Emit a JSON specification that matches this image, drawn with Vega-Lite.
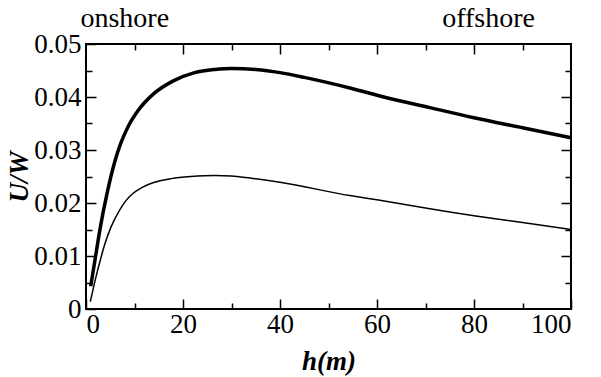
{
  "$schema": "https://vega.github.io/schema/vega-lite/v6.json",
  "width": 485,
  "height": 265,
  "autosize": {"type": "none"},
  "padding": {"left": 86, "top": 44, "right": 30, "bottom": 68},
  "background": "white",
  "config": {
    "view": {"stroke": "black", "strokeWidth": 2},
    "font": "'Liberation Serif', 'DejaVu Serif', serif",
    "axis": {"grid": false, "domain": false, "tickColor": "black", "labelColor": "black", "titleColor": "black", "labelFont": "'Liberation Serif', 'DejaVu Serif', serif", "titleFont": "'Liberation Serif', 'DejaVu Serif', serif"},
    "text": {"font": "'Liberation Serif', 'DejaVu Serif', serif"}
  },
  "datasets": {
    "curves": [
      {"h": 0.97, "u": 0.0043, "s": "thick"},
      {"h": 1.86, "u": 0.0093, "s": "thick"},
      {"h": 2.97, "u": 0.0155, "s": "thick"},
      {"h": 4.34, "u": 0.0218, "s": "thick"},
      {"h": 6.0, "u": 0.0280, "s": "thick"},
      {"h": 7.1, "u": 0.0311, "s": "thick"},
      {"h": 8.62, "u": 0.0343, "s": "thick"},
      {"h": 10.7, "u": 0.0374, "s": "thick"},
      {"h": 13.8, "u": 0.0405, "s": "thick"},
      {"h": 17.9, "u": 0.0430, "s": "thick"},
      {"h": 22.4, "u": 0.0446, "s": "thick"},
      {"h": 26.6, "u": 0.0452, "s": "thick"},
      {"h": 30, "u": 0.0454, "s": "thick"},
      {"h": 35, "u": 0.0452, "s": "thick"},
      {"h": 40, "u": 0.0446, "s": "thick"},
      {"h": 45, "u": 0.0437, "s": "thick"},
      {"h": 54.4, "u": 0.0417, "s": "thick"},
      {"h": 60.6, "u": 0.0402, "s": "thick"},
      {"h": 70.9, "u": 0.0380, "s": "thick"},
      {"h": 80, "u": 0.0361, "s": "thick"},
      {"h": 90, "u": 0.0342, "s": "thick"},
      {"h": 100, "u": 0.0323, "s": "thick"},
      {"h": 0.9, "u": 0.0014, "s": "thin"},
      {"h": 2.07, "u": 0.0061, "s": "thin"},
      {"h": 2.97, "u": 0.0093, "s": "thin"},
      {"h": 3.93, "u": 0.0124, "s": "thin"},
      {"h": 5.17, "u": 0.0155, "s": "thin"},
      {"h": 6.9, "u": 0.0186, "s": "thin"},
      {"h": 8.28, "u": 0.0205, "s": "thin"},
      {"h": 9.66, "u": 0.0218, "s": "thin"},
      {"h": 11.7, "u": 0.0230, "s": "thin"},
      {"h": 14.1, "u": 0.0239, "s": "thin"},
      {"h": 17.6, "u": 0.0246, "s": "thin"},
      {"h": 21.7, "u": 0.0250, "s": "thin"},
      {"h": 26.6, "u": 0.0252, "s": "thin"},
      {"h": 30, "u": 0.0251, "s": "thin"},
      {"h": 33.8, "u": 0.0247, "s": "thin"},
      {"h": 40, "u": 0.0239, "s": "thin"},
      {"h": 54.4, "u": 0.0214, "s": "thin"},
      {"h": 60.6, "u": 0.0205, "s": "thin"},
      {"h": 70.9, "u": 0.0189, "s": "thin"},
      {"h": 75, "u": 0.0183, "s": "thin"},
      {"h": 80, "u": 0.0176, "s": "thin"},
      {"h": 90, "u": 0.0163, "s": "thin"},
      {"h": 100, "u": 0.0150, "s": "thin"}
    ],
    "notes": [
      {"label": "onshore", "h": 8, "u": 0.05},
      {"label": "offshore", "h": 83, "u": 0.05}
    ]
  },
  "resolve": {"axis": {"x": "independent", "y": "independent"}},
  "layer": [
    {
      "data": {"name": "curves"},
      "mark": {"type": "line", "interpolate": "monotone", "color": "black"},
      "encoding": {
        "x": {"field": "h", "type": "quantitative", "scale": {"domain": [0, 100], "nice": false},
          "axis": {"orient": "bottom", "values": [0, 20, 40, 60, 80, 100], "tickSize": -10, "tickWidth": 1.5, "labelFontSize": 27, "labelPadding": 12, "title": "h(m)", "titleFontSize": 27, "titleFontWeight": "bold", "titleFontStyle": "italic", "titlePadding": 11}},
        "y": {"field": "u", "type": "quantitative", "scale": {"domain": [0, 0.05], "nice": false},
          "axis": {"orient": "left", "values": [0, 0.01, 0.02, 0.03, 0.04, 0.05], "tickSize": -10, "tickWidth": 1.5, "labelFontSize": 27, "labelPadding": 15, "labelExpr": "datum.value == 0 ? '0' : format(datum.value, '.2f')", "title": "U/W", "titleFontSize": 27, "titleFontWeight": "bold", "titleFontStyle": "italic", "titlePadding": 0}},
        "detail": {"field": "s"},
        "strokeWidth": {"field": "s", "type": "nominal", "scale": {"domain": ["thick", "thin"], "range": [3.5, 1.5]}, "legend": null}
      }
    },
    {
      "data": {"name": "curves"},
      "mark": {"type": "line", "opacity": 0},
      "encoding": {
        "x": {"field": "h", "type": "quantitative", "axis": {"orient": "bottom", "values": [10, 30, 50, 70, 90], "tickSize": -6, "tickWidth": 1.5, "labels": false, "title": null}},
        "y": {"field": "u", "type": "quantitative", "axis": {"orient": "left", "values": [0.005, 0.015, 0.025, 0.035, 0.045], "tickSize": -6, "tickWidth": 1.5, "labels": false, "title": null}},
        "detail": {"field": "s"}
      }
    },
    {
      "data": {"name": "curves"},
      "mark": {"type": "line", "opacity": 0},
      "encoding": {
        "x": {"field": "h", "type": "quantitative", "axis": {"orient": "top", "values": [20, 40, 60, 80], "tickSize": -10, "tickWidth": 1.5, "labels": false, "title": null}},
        "y": {"field": "u", "type": "quantitative", "axis": {"orient": "right", "values": [0.01, 0.02, 0.03, 0.04], "tickSize": -10, "tickWidth": 1.5, "labels": false, "title": null}},
        "detail": {"field": "s"}
      }
    },
    {
      "data": {"name": "curves"},
      "mark": {"type": "line", "opacity": 0},
      "encoding": {
        "x": {"field": "h", "type": "quantitative", "axis": {"orient": "top", "values": [10, 30, 50, 70, 90], "tickSize": -6, "tickWidth": 1.5, "labels": false, "title": null}},
        "y": {"field": "u", "type": "quantitative", "axis": {"orient": "right", "values": [0.005, 0.015, 0.025, 0.035, 0.045], "tickSize": -6, "tickWidth": 1.5, "labels": false, "title": null}},
        "detail": {"field": "s"}
      }
    },
    {
      "data": {"name": "notes"},
      "mark": {"type": "text", "font": "'Liberation Serif', 'DejaVu Serif', serif", "fontSize": 28, "color": "black", "baseline": "alphabetic", "dy": -17},
      "encoding": {
        "x": {"field": "h", "type": "quantitative", "axis": null},
        "y": {"field": "u", "type": "quantitative", "axis": null},
        "text": {"field": "label"}
      }
    }
  ]
}
